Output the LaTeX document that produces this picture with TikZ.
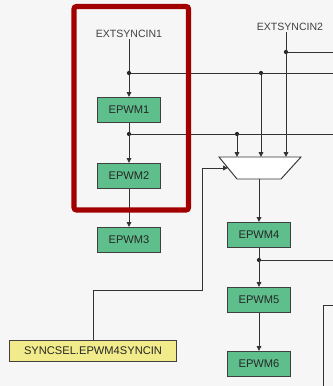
\documentclass[tikz,border=0pt]{standalone}
\usepackage{fontspec}
\setmainfont{Liberation Sans}
\usepackage{tikz}
\usetikzlibrary{arrows.meta, positioning, shapes.geometric}
\definecolor{epwmgreen}{HTML}{5EBF8D}
\definecolor{selyellow}{HTML}{F1EB8B}
\definecolor{framered}{HTML}{A20000}
\definecolor{bggray}{HTML}{F6F6F6}

\begin{document}
\begin{tikzpicture}[
  x=0.03cm, y=-0.03cm,
  epwm/.style={draw=black!75, line width=0.9pt, fill=epwmgreen, minimum width=1.89cm, minimum height=0.75cm, inner sep=0pt, font=\fontsize{9.5}{11}\selectfont, text=black!85},
  selbox/.style={draw=black!75, line width=0.9pt, fill=selyellow, minimum width=5.01cm, minimum height=0.64cm, inner sep=0pt, font=\fontsize{9.5}{11}\selectfont, text=black!85},
  sig/.style={font=\fontsize{9}{11}\selectfont, text=black!75, inner sep=1pt},
  mux/.style={draw=black!80, line width=0.8pt, fill=white},
  dot/.style={circle, fill=black!85, inner sep=0pt, minimum size=3.6pt},
  wire/.style={draw=black!80, line width=0.8pt},
  arr/.style={wire, -{Triangle[length=4.2pt, width=4pt]}}
]

  % background and page size
  \fill[bggray] (0,0) rectangle (333,386);
  \useasboundingbox (0,0) rectangle (333,386);
  \coordinate (edge) at (333,0);

  % 1. Sync inputs
  \node[sig] (ext1) at (129,34) {EXTSYNCIN1};
  \node[sig] (ext2) at (290,27) {EXTSYNCIN2};

  % 2. EPWM modules
  \node[epwm] (e1) at (129,110) {EPWM1};
  \node[epwm] (e2) at (129,176) {EPWM2};
  \node[epwm] (e3) at (129,240) {EPWM3};
  \node[epwm] (e4) at (259,235) {EPWM4};
  \node[epwm] (e5) at (259,300) {EPWM5};
  \node[epwm] (e6) at (259,364) {EPWM6};

  % Mux (drawn as trapezoid) and select register
  \coordinate (mtop) at (260,157);
  \coordinate (mbot) at (259,179);
  \coordinate (msel) at (228,168);
  \draw[mux] (219,157) -- (301,157) -- (281,179) -- (237,179) -- cycle;
  \node[selbox] (sel) at (93,351) {SYNCSEL.EPWM4SYNCIN};

  % Junctions
  \node[dot] (j1) at (129,73) {};
  \node[dot] (j2) at (129,134) {};
  \node[dot] (j3) at (261,73) {};
  \node[dot] (j4) at (237,134) {};
  \node[dot] (j5) at (286,52) {};
  \node[dot] (j6) at (259,260) {};
  \coordinate (bend) at (202,290);
  \coordinate (rtop) at (323,305);
  \coordinate (rbot) at (323,386);

  % 3. Chain EPWM1 -> EPWM3
  \draw[wire] (ext1.south) -- (j1);
  \draw[arr] (j1) -- (e1);
  \draw[arr] (e1) -- (e2);
  \draw[arr] (e2) -- (e3);

  % Buses to the right
  \draw[wire] (j1) -- (j1 -| edge);
  \draw[wire] (j2) -- (j2 -| edge);
  \draw[wire] (j5) -- (j5 -| edge);

  % Mux inputs
  \draw[arr] (j4) -- (j4 |- mtop);
  \draw[arr] (j3) -- (j3 |- mtop);
  \draw[arr] (ext2.south -| j5) -- (j5 |- mtop);
  \draw[arr] (sel.north) |- (bend) |- (msel);

  % 4. Chain EPWM4 -> EPWM6
  \draw[arr] (mbot) -- (e4);
  \draw[arr] (e4) -- (e5);
  \draw[wire] (j6) -- (j6 -| edge);
  \draw[arr] (e5) -- (e6);
  \draw[wire] (rtop -| edge) -- (rtop) -- (rbot);

  % Highlight frame
  \draw[framered, line width=4.3pt, rounded corners=2pt] (74,6.5) rectangle (188.5,210);

\end{tikzpicture}
\end{document}
